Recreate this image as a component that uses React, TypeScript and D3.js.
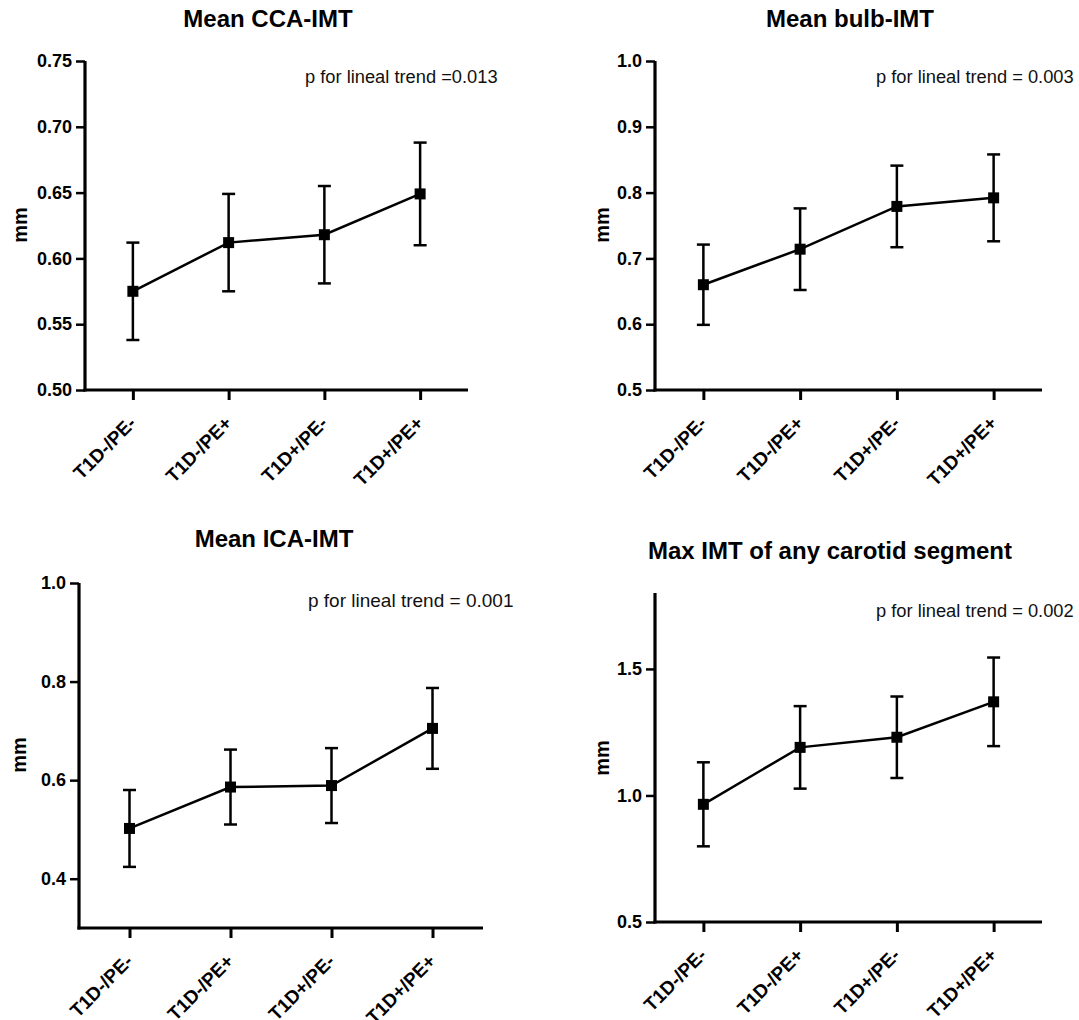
import React, { useEffect, useRef } from "react";
import * as d3 from "d3";

// Groups on the x axis
const categories = ["T1D-/PE-", "T1D-/PE+", "T1D+/PE-", "T1D+/PE+"];

// Mean IMT (mm) and error-bar half-widths per group
const ccaMean = [0.575, 0.612, 0.618, 0.649];
const ccaErr = [0.037, 0.037, 0.037, 0.039];

const bulbMean = [0.66, 0.714, 0.779, 0.792];
const bulbErr = [0.061, 0.062, 0.062, 0.066];

const icaMean = [0.502, 0.586, 0.589, 0.705];
const icaErr = [0.078, 0.076, 0.076, 0.082];

const maxMean = [0.965, 1.19, 1.23, 1.37];
const maxErr = [0.166, 0.163, 0.161, 0.175];

// Axis ticks
const ccaTicks = [0.5, 0.55, 0.6, 0.65, 0.7, 0.75];
const bulbTicks = [0.5, 0.6, 0.7, 0.8, 0.9, 1.0];
const icaTicks = [0.4, 0.6, 0.8, 1.0];
const maxTicks = [0.5, 1.0, 1.5];

const titles = [
  "Mean CCA-IMT",
  "Mean bulb-IMT",
  "Mean ICA-IMT",
  "Max IMT of any carotid segment",
];
const trendLabels = [
  "p for lineal trend =0.013",
  "p for lineal trend = 0.003",
  "p for lineal trend = 0.001",
  "p for lineal trend = 0.002",
];

const FONT = "'Liberation Sans', Arial, Helvetica, sans-serif";

interface PanelLayout {
  x0: number;
  x1: number;
  yTop: number;
  yBottom: number;
  domain: [number, number];
  ticks: number[];
  fmt: string;
  titleX: number;
  titleY: number;
  pX: number;
  pY: number;
  pSize: number;
  mmX: number;
  mmY: number;
}

const layouts: PanelLayout[] = [
  { x0: 85, x1: 468, yTop: 61, yBottom: 390, domain: [0.5, 0.75], ticks: ccaTicks, fmt: ".2f",
    titleX: 268, titleY: 27, pX: 305, pY: 83, pSize: 18.3, mmX: 20, mmY: 225 },
  { x0: 655, x1: 1042, yTop: 61, yBottom: 390, domain: [0.5, 1.0], ticks: bulbTicks, fmt: ".1f",
    titleX: 850, titleY: 27, pX: 876, pY: 83, pSize: 18.3, mmX: 602, mmY: 225 },
  { x0: 79, x1: 483, yTop: 583, yBottom: 928, domain: [0.3, 1.0], ticks: icaTicks, fmt: ".1f",
    titleX: 274, titleY: 547, pX: 308, pY: 607, pSize: 19, mmX: 19, mmY: 755 },
  { x0: 655, x1: 1042, yTop: 593, yBottom: 922, domain: [0.5, 1.8], ticks: maxTicks, fmt: ".1f",
    titleX: 830, titleY: 559, pX: 876, pY: 617, pSize: 18.3, mmX: 602, mmY: 758 },
];

const means = [ccaMean, bulbMean, icaMean, maxMean];
const errs = [ccaErr, bulbErr, icaErr, maxErr];

export default function App() {
  const ref = useRef<SVGSVGElement>(null);

  useEffect(() => {
    const svg = d3.select(ref.current);
    svg.selectAll("*").remove();

    layouts.forEach((L, i) => {
      const g = svg.append("g");
      const x = d3.scalePoint<string>().domain(categories).range([L.x0, L.x1]).padding(0.5);
      const y = d3.scaleLinear().domain(L.domain).range([L.yBottom, L.yTop]);

      // y axis
      const yAxis = d3
        .axisLeft(y)
        .tickValues(L.ticks)
        .tickFormat(d3.format(L.fmt) as any)
        .tickSize(9)
        .tickSizeOuter(0)
        .tickPadding(4);
      const ya = g.append("g").attr("transform", `translate(${L.x0},0)`).call(yAxis);
      ya.select(".domain").attr("stroke", "#000").attr("stroke-width", 3.2).attr("d", `M0,${L.yBottom + 1.5}V${L.yTop}`);
      ya.selectAll(".tick line").attr("stroke", "#000").attr("stroke-width", 2.5);
      ya.selectAll(".tick text")
        .attr("fill", "#000")
        .style("font-family", FONT)
        .style("font-size", "18px")
        .style("font-weight", "bold");

      // x axis
      const xAxis = d3.axisBottom(x).tickSize(10).tickSizeOuter(0).tickFormat(() => "");
      const xa = g.append("g").attr("transform", `translate(0,${L.yBottom})`).call(xAxis);
      xa.select(".domain").attr("stroke", "#000").attr("stroke-width", 3.2).attr("d", `M${L.x0 - 1.5},0H${L.x1}`);
      xa.selectAll(".tick line").attr("stroke", "#000").attr("stroke-width", 3);

      // rotated category labels
      g.selectAll(".cat")
        .data(categories)
        .enter()
        .append("text")
        .attr("transform", (d) => `translate(${(x(d) as number) - 5},${L.yBottom + 25}) rotate(-45)`)
        .attr("text-anchor", "end")
        .attr("dy", "0.7em")
        .style("font-family", FONT)
        .style("font-size", "19px")
        .style("font-weight", "bold")
        .attr("fill", "#000")
        .text((d) => d);

      // y-axis title
      g.append("text")
        .attr("transform", `translate(${L.mmX},${L.mmY}) rotate(-90)`)
        .attr("text-anchor", "middle")
        .attr("dy", "0.35em")
        .style("font-family", FONT)
        .style("font-size", "20px")
        .style("font-weight", "bold")
        .text("mm");

      // panel title
      g.append("text")
        .attr("x", L.titleX)
        .attr("y", L.titleY)
        .attr("text-anchor", "middle")
        .style("font-family", FONT)
        .style("font-size", "24px")
        .style("font-weight", "bold")
        .text(titles[i]);

      // trend annotation
      g.append("text")
        .attr("x", L.pX)
        .attr("y", L.pY)
        .style("font-family", FONT)
        .style("font-size", `${L.pSize}px`)
        .attr("fill", "#111")
        .text(trendLabels[i]);

      const rows = categories.map((c, k) => ({ c, m: means[i][k], e: errs[i][k] }));

      // error bars
      const eb = g.selectAll(".eb").data(rows).enter().append("g");
      eb.append("line")
        .attr("x1", (d) => x(d.c) as number)
        .attr("x2", (d) => x(d.c) as number)
        .attr("y1", (d) => y(d.m + d.e))
        .attr("y2", (d) => y(d.m - d.e))
        .attr("stroke", "#000")
        .attr("stroke-width", 2.5);
      [1, -1].forEach((s) => {
        eb.append("line")
          .attr("x1", (d) => (x(d.c) as number) - 6.5)
          .attr("x2", (d) => (x(d.c) as number) + 6.5)
          .attr("y1", (d) => y(d.m + s * d.e))
          .attr("y2", (d) => y(d.m + s * d.e))
          .attr("stroke", "#000")
          .attr("stroke-width", 2.5);
      });

      // connecting line
      const line = d3
        .line<{ c: string; m: number }>()
        .x((d) => x(d.c) as number)
        .y((d) => y(d.m));
      g.append("path")
        .datum(rows)
        .attr("d", line as any)
        .attr("fill", "none")
        .attr("stroke", "#000")
        .attr("stroke-width", 2.5);

      // square markers
      g.selectAll(".pt")
        .data(rows)
        .enter()
        .append("rect")
        .attr("x", (d) => (x(d.c) as number) - 5.5)
        .attr("y", (d) => y(d.m) - 5.5)
        .attr("width", 11)
        .attr("height", 11)
        .attr("fill", "#000");
    });
  }, []);

  return (
    <svg
      ref={ref}
      width={1079}
      height={1020}
      style={{ position: "absolute", left: 0, top: 0, background: "#fff" }}
    />
  );
}
